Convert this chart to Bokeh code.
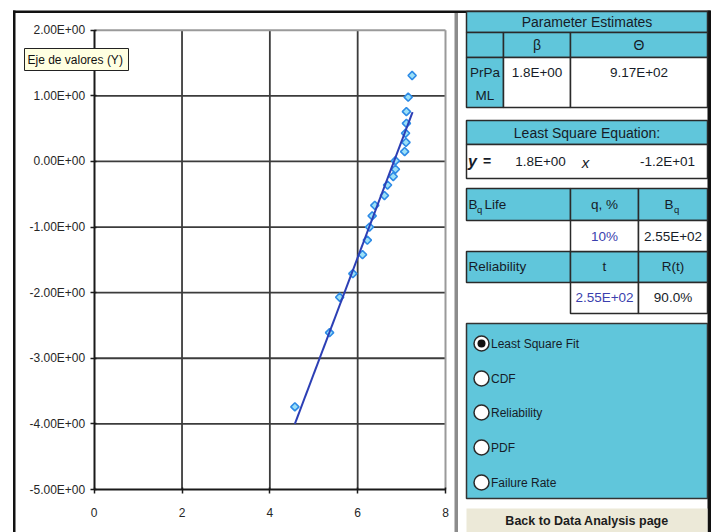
import numpy as np
from bokeh.plotting import figure
from bokeh.models import Range1d, FixedTicker, LinearAxis
from bokeh.embed import file_html
from bokeh.resources import INLINE
from bokeh.core.properties import value

# ---------------- data ----------------
x_values = [4.57, 5.36, 5.59, 5.89, 6.11, 6.22, 6.27, 6.33, 6.39, 6.61, 6.68,
            6.81, 6.86, 6.86, 7.07, 7.10, 7.09, 7.11, 7.11, 7.15, 7.24]
y_values = [-3.74, -2.61, -2.07, -1.71, -1.42, -1.20, -1.00, -0.83, -0.67, -0.52, -0.36,
            -0.23, -0.12, 0.01, 0.15, 0.29, 0.43, 0.58, 0.76, 0.98, 1.31]
fit_x = [4.57, 7.25]
fit_y = [-4.00, 0.75]
x_ticks = [0, 2, 4, 6, 8]
y_ticks = [-5, -4, -3, -2, -1, 0, 1, 2]
y_tick_labels = ["-5.00E+00", "-4.00E+00", "-3.00E+00", "-2.00E+00",
                 "-1.00E+00", "0.00E+00", "1.00E+00", "2.00E+00"]
tooltip_text = "Eje de valores (Y)"

param_title = "Parameter Estimates"
param_headers = ["β", "Θ"]
param_row_label = ["PrPa", "ML"]
param_values = ["1.8E+00", "9.17E+02"]
lsq_title = "Least Square Equation:"
lsq_slope = "1.8E+00"
lsq_intercept = "-1.2E+01"
bq_headers = ["q, %", "B"]
bq_values = ["10%", "2.55E+02"]
rel_headers = ["Reliability", "t", "R(t)"]
rel_values = ["2.55E+02", "90.0%"]
radio_options = ["Least Square Fit", "CDF", "Reliability", "PDF", "Failure Rate"]
button_text = "Back to Data Analysis page"

# ---------------- layout constants (pixels) ----------------
W, H = 714, 532
PL, PR, PT, PB = 93.7, 445.0, 29.7, 489.0       # plot area in canvas pixels
X0, X1, Y0, Y1 = 0.0, 8.0, -5.0, 2.0            # plot area in data units
sx = (PR - PL) / (X1 - X0)
sy = (PB - PT) / (Y1 - Y0)

FONT = "Liberation Sans"
TEAL = "#60C6DB"
DARK = "#161c28"
BLUE = "#3b3fae"

p = figure(width=W, height=H,
           x_range=Range1d(X0 - PL / sx, X1 + (W - PR) / sx),
           y_range=Range1d(Y0 - (H - PB) / sy, Y1 + PT / sy),
           x_axis_type=None, y_axis_type=None,
           output_backend="svg", toolbar_location=None, min_border=0,
           background_fill_color="white", border_fill_color="white")
p.outline_line_color = None
p.extra_x_ranges = {"px": Range1d(0, W)}
p.extra_y_ranges = {"px": Range1d(H, 0)}

def pquad(l, r, t, b, fill, line=None, lw=1.5, level="glyph"):
    p.quad(left=l, right=r, top=t, bottom=b, fill_color=fill, line_color=line,
           line_width=lw, x_range_name="px", y_range_name="px", level=level)

def ptext(xs, ys, texts, size="13.5px", color=DARK, align="center", style="normal",
          level="glyph"):
    p.text(x=xs, y=ys, text=texts, text_font=value(FONT), text_font_size=size,
           text_color=color, text_align=align, text_baseline="middle",
           text_font_style=style, x_range_name="px", y_range_name="px", level=level)

# ---------------- chart ----------------
inner_x = x_ticks[1:-1]
inner_y = y_ticks[1:-1]
p.segment(x0=inner_x, x1=inner_x, y0=[Y0] * len(inner_x), y1=[Y1] * len(inner_x),
          line_color="#3c3c3c", line_width=1.8)
p.segment(x0=[X0] * len(inner_y), x1=[X1] * len(inner_y), y0=inner_y, y1=inner_y,
          line_color="#3c3c3c", line_width=1.8)
p.segment(x0=[X0, X1], x1=[X1, X1], y0=[Y1, Y0], y1=[Y1, Y1],
          line_color="#9a9a9a", line_width=2)

p.scatter(x_values, y_values, marker="square", angle=np.pi / 4, size=5.8,
          fill_color="#9be0f7", line_color="#2e8be6", line_width=1.6)
p.line(fit_x, fit_y, line_color="#2c3fb5", line_width=2)

yaxis = LinearAxis(fixed_location=X0, bounds=(Y0, Y1), ticker=FixedTicker(ticks=y_ticks))
yaxis.major_label_overrides = {t: l for t, l in zip(y_ticks, y_tick_labels)}
xaxis = LinearAxis(fixed_location=Y0, bounds=(X0, X1), ticker=FixedTicker(ticks=x_ticks))
for ax in (xaxis, yaxis):
    ax.axis_line_color = "#1a1a1a"
    ax.axis_line_width = 2
    ax.major_tick_line_color = "#1a1a1a"
    ax.major_tick_line_width = 1.5
    ax.major_tick_out = 4
    ax.major_tick_in = 2
    ax.minor_tick_line_color = None
    ax.major_label_text_font = FONT
    ax.major_label_text_font_size = "12px"
    ax.major_label_text_color = "#262626"
yaxis.major_label_standoff = 5
xaxis.major_label_standoff = 14
p.add_layout(yaxis, "left")
p.add_layout(xaxis, "below")

# chart frame borders
pquad([12.5, 12.5], [15, 710], [10, 10], [H, 12.5], "#111111")
pquad([454], [457.5], [12.5], [H], "#8c8c8c")

# tooltip over the axis
pquad([24], [128], [48], [70], "#FFFFE1", line="#222222", lw=1, level="overlay")
ptext([27], [59.5], [tooltip_text], size="12px", align="left", color="#111111",
      level="overlay")

# ---------------- right panel ----------------
L, C1, C2, C3, R = 466, 503, 570, 638, 707
pquad([R], [710.5], [10], [H], "#111111")

teal_cells = [(L, R, 11, 32), (L, C1, 32, 57), (C1, C2, 32, 57), (C2, R, 32, 57),
              (L, C1, 57, 107),
              (L, R, 120, 144),
              (L, C2, 188, 220), (C2, C3, 188, 220), (C3, R, 188, 220),
              (L, C2, 251, 282), (C2, C3, 251, 282), (C3, R, 251, 282)]
white_cells = [(C1, C2, 57, 107), (C2, R, 57, 107), (L, R, 144, 178),
               (C2, C3, 220, 251), (C3, R, 220, 251),
               (C2, C3, 282, 313), (C3, R, 282, 313)]
for lst, fill in ((teal_cells, TEAL), (white_cells, "white")):
    pquad([c[0] for c in lst], [c[1] for c in lst], [c[2] for c in lst],
          [c[3] for c in lst], fill, line="#2a2a2a", lw=1.5)
pquad([L], [R], [323], [498], TEAL, line="#333333", lw=1.5)
pquad([L], [R], [508], [H + 2], "#ECE9D8")

# table 1
ptext([(L + R) / 2], [21.5], [param_title], size="14px")
ptext([(C1 + C2) / 2, (C2 + R) / 2], [44.5, 44.5], param_headers, size="14px")
ptext([(L + C1) / 2, (L + C1) / 2], [71.5, 95], param_row_label)
ptext([(C1 + C2) / 2, (C2 + R) / 2], [71.5, 71.5], param_values)
# table 2
ptext([(L + R) / 2], [132], [lsq_title], size="14px")
ptext([472], [161], ["y"], size="16px", style="bold italic")
ptext([486.5], [160], ["="], size="14px", style="bold")
ptext([540, 667], [161, 161], [lsq_slope, lsq_intercept])
ptext([585], [162], ["x"], size="15px", style="italic")
# table 3
ptext([468], [204], ["B"], align="left")
ptext([476.5], [208.5], ["q"], size="9.5px", align="left")
ptext([484], [204], ["Life"], align="left")
ptext([(C2 + C3) / 2], [204], [bq_headers[0]])
ptext([668.5], [204], [bq_headers[1]])
ptext([673.5], [208.5], ["q"], size="9.5px", align="left")
ptext([(C2 + C3) / 2], [236], [bq_values[0]], color=BLUE)
ptext([(C3 + R) / 2], [236], [bq_values[1]])
ptext([468], [266], [rel_headers[0]], align="left")
ptext([(C2 + C3) / 2, (C3 + R) / 2], [266, 266], rel_headers[1:])
ptext([(C2 + C3) / 2], [297], [rel_values[0]], color=BLUE)
ptext([(C3 + R) / 2], [297], [rel_values[1]])

# radio options
radio_y = [343, 378, 412, 447, 482]
p.scatter(x=[481] * len(radio_y), y=radio_y, marker="circle", size=15,
          fill_color="white", line_color="#2a2a2a", line_width=1.5,
          x_range_name="px", y_range_name="px")
p.scatter(x=[481], y=[radio_y[0]], marker="circle", size=8, fill_color="#111111",
          line_color=None, x_range_name="px", y_range_name="px")
ptext([490.5] * len(radio_y), radio_y, radio_options, size="12px", align="left")

# button
ptext([(L + R) / 2], [520], [button_text], size="12.5px", style="bold", color="#1c1c1c")

open("out.html", "w").write(file_html(p, INLINE))
